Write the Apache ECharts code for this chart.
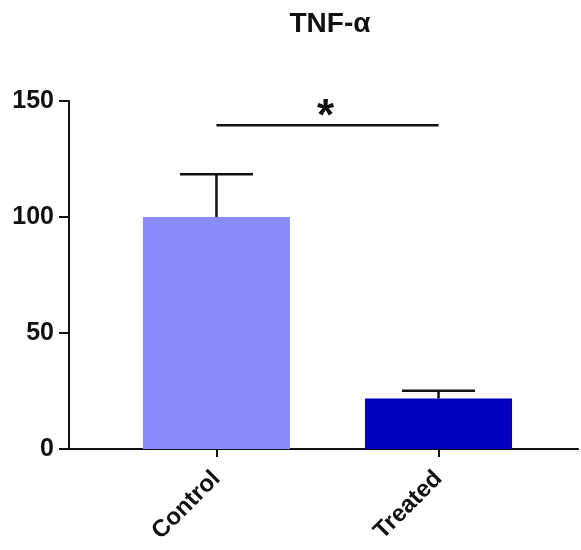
<!DOCTYPE html>
<html>
<head>
<meta charset="utf-8">
<script src="https://cdn.jsdelivr.net/npm/echarts@6/dist/echarts.min.js"></script>
<style>
  html, body { margin: 0; padding: 0; background: #fff; }
  #chart { width: 581px; height: 550px; }
</style>
</head>
<body>
<div id="chart"></div>
<script>
// data
var categories = ['Control', 'Treated'];
var means = [100, 21.8];
var errTop = [118.4, 25.1];
var barColors = ['#8a8afa', '#0000bd'];
var sigPair = [0, 1];
var sigLevel = 139.5;
var sigMark = '*';
var yTicks = [0, 50, 100, 150];

var chart = echarts.init(document.getElementById('chart'));

var barData = means.map(function (v, i) {
	return { value: [i, v], itemStyle: { color: barColors[i] } };
});
var errData = means.map(function (v, i) {
	return [i, v, errTop[i]];
});

var option = {
	animation: false,
	title: {
		text: 'TNF-α',
		left: 325,
		top: 5,
		textAlign: 'center',
		textStyle: { fontFamily: 'Liberation Sans', fontWeight: 'bold', fontSize: 28, color: '#111' }
	},
	grid: { left: 69, right: 3, top: 101, bottom: 101 },
	xAxis: {
		type: 'value',
		min: -0.664,
		max: 1.628,
		splitLine: { show: false },
		axisLine: { onZero: false, lineStyle: { color: '#111', width: 2 } },
		axisTick: { show: true, customValues: [0, 1], length: 8, lineStyle: { color: '#111', width: 2 } },
		axisLabel: {
			customValues: [0, 1],
			rotate: 45,
			margin: 26,
			fontFamily: 'Liberation Sans',
			fontWeight: 'bold',
			fontSize: 24,
			color: '#111',
			formatter: function (v) { return categories[Math.round(v)]; }
		}
	},
	yAxis: {
		type: 'value',
		min: 0,
		max: 150,
		interval: 50,
		splitLine: { show: false },
		axisLine: { show: true, onZero: false, lineStyle: { color: '#111', width: 2 } },
		axisTick: { show: true, length: 10, lineStyle: { color: '#111', width: 2 } },
		axisLabel: {
			margin: 15,
			fontFamily: 'Liberation Sans',
			fontWeight: 'bold',
			fontSize: 25,
			color: '#111',
			formatter: function (v) { return yTicks.indexOf(v) >= 0 ? String(v) : ''; }
		}
	},
	series: [
		{
			type: 'bar',
			barWidth: 147,
			data: barData,
			z: 2
		},
		{
			type: 'custom',
			z: 3,
			data: errData,
			renderItem: function (params, api) {
				var x = api.value(0);
				var base = api.coord([x, api.value(1)]);
				var top = api.coord([x, api.value(2)]);
				var half = 36.5;
				var st = { stroke: '#111', lineWidth: 2.5 };
				return {
					type: 'group',
					children: [
						{ type: 'line', shape: { x1: base[0], y1: base[1], x2: top[0], y2: top[1] }, style: st },
						{ type: 'line', shape: { x1: top[0] - half, y1: top[1], x2: top[0] + half, y2: top[1] }, style: st }
					]
				};
			}
		},
		{
			type: 'custom',
			z: 3,
			data: [[sigPair[0], sigPair[1], sigLevel]],
			renderItem: function (params, api) {
				var a = api.coord([api.value(0), api.value(2)]);
				var b = api.coord([api.value(1), api.value(2)]);
				return {
					type: 'group',
					children: [
						{ type: 'line', shape: { x1: a[0], y1: a[1], x2: b[0], y2: b[1] }, style: { stroke: '#111', lineWidth: 2.5 } },
						{ type: 'text', x: (a[0] + b[0]) / 2 - 2, y: a[1] + 14, style: {
							text: sigMark, fill: '#111', fontFamily: 'Liberation Sans', fontWeight: 'bold', fontSize: 44,
							align: 'center', verticalAlign: 'bottom'
						} }
					]
				};
			}
		}
	]
};
chart.setOption(option);
</script>
</body>
</html>
